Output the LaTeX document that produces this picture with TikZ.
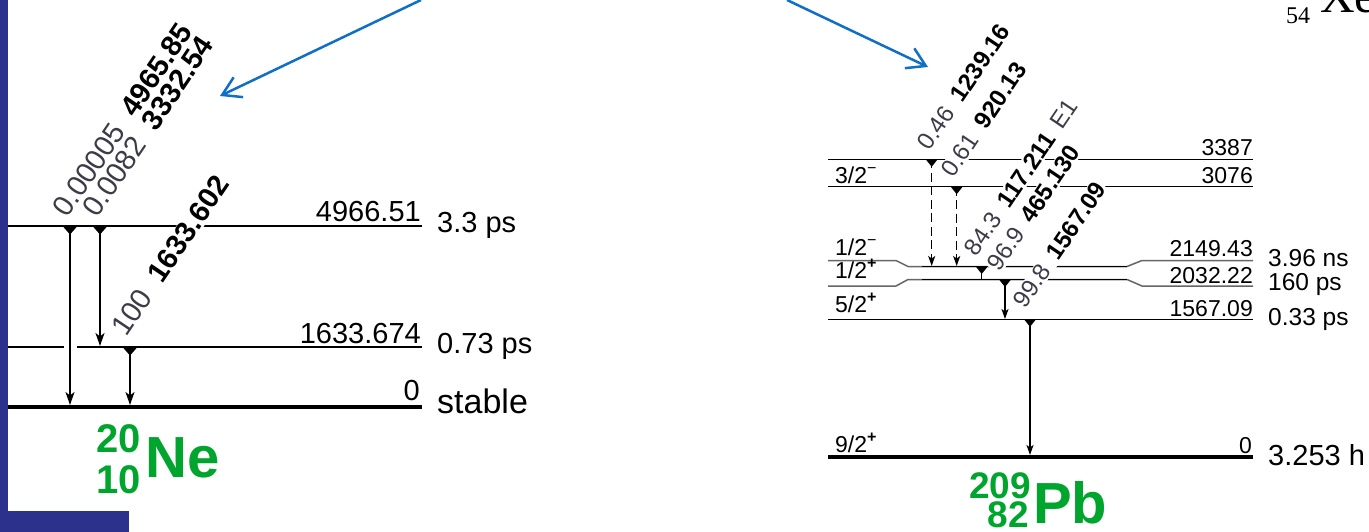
\documentclass[tikz,border=0pt]{standalone}
\usepackage{fontspec}
\setmainfont{Liberation Sans}
\newfontfamily\serifxe{Liberation Serif}
\usetikzlibrary{arrows.meta}
\definecolor{navy}{RGB}{44,50,140}
\definecolor{arrblue}{RGB}{15,111,198}
\definecolor{nucgreen}{RGB}{0,165,45}
\definecolor{intgray}{RGB}{60,60,72}
\newcommand\fsz[1]{\fontsize{#1}{#1}\selectfont}
\newcommand\inty[1]{\textcolor{intgray}{#1}}
\begin{document}
\begin{tikzpicture}[x=1pt,y=-1pt,
  lev/.style={line width=1.7pt},
  levb/.style={line width=1.5pt},
  gnd/.style={line width=4.5pt},
  nelab/.style={font=\fsz{29}, inner sep=0pt},
  pblab/.style={font=\fsz{23}, inner sep=0pt},
  pbtime/.style={font=\fsz{24.5}, inner sep=0pt, anchor=base west},
  gam/.style={rotate=56, anchor=base west, inner sep=1.2pt, fill=white},
  negam/.style={gam, font=\fsz{29}},
  pbgam/.style={gam, font=\fsz{24}},
  netr/.style={line width=1.8pt, -{Stealth[length=13pt,width=9pt,inset=3.5pt]}},
  pbtr/.style={line width=1.5pt, -{Stealth[length=10pt,width=7pt,inset=2.5pt]}},
  pbdash/.style={pbtr, dash pattern=on 9pt off 4.5pt},
  bluarr/.style={draw=arrblue, line width=2.5pt, -{Straight Barb[length=18pt,width=22pt]}},
  nuc/.style={text=nucgreen, inner sep=0pt, font=\bfseries\fsz{40}},
  dropne/.pic={\fill[rounded corners=1pt] (-7.5,0) -- (7.5,0) -- (0,8.5) -- cycle;},
  droppb/.pic={\fill[rounded corners=0.8pt] (-6,0) -- (6,0) -- (0,7.5) -- cycle;}
]
\clip (0,0) rectangle (1369,532);
\fill[white] (0,0) rectangle (1369,532);

% ---------------- Ne-20 ----------------
\draw[lev] (7,226) -- (422,226);
\draw[lev] (7,347) -- (64,347);
\draw[lev] (77,347) -- (422,347);
\draw[gnd] (7,407) -- (422,407);

\node[nelab, anchor=base east] (nl1) at (421,222) {4966.51};
\node[nelab, anchor=base west] (nt1) at (437,233) {3.3 ps};
\node[nelab, anchor=base east] (nl2) at (421,343) {1633.674};
\node[nelab, anchor=base west] (nt2) at (437,353) {0.73 ps};
\node[nelab, anchor=base east] (nl0) at (420,400) {0};
\node[nelab, anchor=base west, font=\fsz{34}] (nt0) at (437,413) {stable};

\node[negam] (g1) at (67,220) {\inty{0.00005}\hspace{0.55em}\textbf{4965.85}};
\node[negam] (g2) at (97,220) {\inty{0.0082}\hspace{0.55em}\textbf{3332.54}};
\node[negam] (g3) at (126,339) {\inty{100}\hspace{0.55em}\textbf{1633.602}};

\coordinate (na1) at (70,226);  \coordinate (na0) at (70,405);
\coordinate (nb1) at (100,226); \coordinate (nb2) at (100,346);
\coordinate (nc2) at (130,347); \coordinate (nc0) at (130,405);
\draw[netr] (na1) -- (na0);
\draw[netr] (nb1) -- (nb2);
\draw[netr] (nc2) -- (nc0);
\pic at (na1) {dropne};
\pic at (nb1) {dropne};
\pic at (nc2) {dropne};

\node[nuc, anchor=base east] (nem) at (141,452) {20};
\node[nuc, anchor=base east] (nez) at (141,493) {10};
\node[nuc, anchor=base west, font=\bfseries\fsz{58}] (nes) at (145,477) {Ne};

% ---------------- Pb-209 ----------------
\draw[levb] (828,159.3) -- (1253,159.3);
\draw[levb] (828,186.7) -- (1253,186.7);
\draw[levb, black!60] (828,260.5) -- (896,260.5) -- (908,266.5) -- (1127,266.5) -- (1142,260.5) -- (1253,260.5);
\draw[levb] (922,266.5) -- (1127,266.5);
\draw[levb, black!60] (828,286) -- (896,286) -- (908,279.5) -- (1127,279.5) -- (1142,286) -- (1253,286);
\draw[levb] (922,279.5) -- (1127,279.5);
\draw[levb] (828,319.3) -- (1253,319.3);
\draw[gnd] (828,457) -- (1253,457);

\node[pblab, anchor=base east] (e1) at (1253,156) {3387};
\node[pblab, anchor=base east] (e2) at (1253,184) {3076};
\node[pblab, anchor=base east] (e3) at (1253,256) {2149.43};
\node[pblab, anchor=base east] (e4) at (1253,283) {2032.22};
\node[pblab, anchor=base east] (e5) at (1253,316) {1567.09};
\node[pblab, anchor=base east] (e0) at (1252,453) {0};

\node[pblab, anchor=base west] (s2) at (835,183) {3/2\textsuperscript{−}};
\node[pblab, anchor=base west] (s3) at (835,255) {1/2\textsuperscript{−}};
\node[pblab, anchor=base west] (s4) at (835,278) {1/2\textsuperscript{\textbf{+}}};
\node[pblab, anchor=base west] (s5) at (835,312) {5/2\textsuperscript{\textbf{+}}};
\node[pblab, anchor=base west] (s0) at (835,452) {9/2\textsuperscript{\textbf{+}}};

\node[pbtime] (t3) at (1268,266) {3.96 ns};
\node[pbtime] (t4) at (1268,290) {160 ps};
\node[pbtime] (t5) at (1268,325) {0.33 ps};
\node[pbtime, font=\fsz{29}] (t0) at (1268,465) {3.253 h};

\node[pbgam] (h1) at (929,153) {\inty{0.46}\hspace{0.5em}\textbf{1239.16}};
\node[pbgam] (h2) at (953,180) {\inty{0.61}\hspace{0.5em}\textbf{920.13}};
\node[pbgam] (h3) at (976,259) {\inty{84.3}\hspace{0.5em}\textbf{117.211}\hspace{0.45em}\inty{E1}};
\node[pbgam] (h4) at (999,274) {\inty{96.9}\hspace{0.5em}\textbf{465.130}};
\node[pbgam] (h5) at (1025,311) {\inty{99.8}\hspace{0.5em}\textbf{1567.09}};

\coordinate (p1a) at (931.7,159.3); \coordinate (p1b) at (931.7,266);
\coordinate (p2a) at (956.7,186.7); \coordinate (p2b) at (956.7,266);
\coordinate (p3a) at (981.7,266.5); \coordinate (p3b) at (981.7,279);
\coordinate (p4a) at (1005,279.5);  \coordinate (p4b) at (1005,319);
\coordinate (p5a) at (1030,319.3);  \coordinate (p5b) at (1030,455);
\draw[pbdash] (p1a) -- (p1b);
\draw[pbdash] (p2a) -- (p2b);
\draw[line width=1.5pt] (p3a) -- (p3b);
\draw[pbtr] (p4a) -- (p4b);
\draw[pbtr] (p5a) -- (p5b);
\pic at (p1a) {droppb};
\pic at (p2a) {droppb};
\pic at (p3a) {droppb};
\pic at (p4a) {droppb};
\pic at (p5a) {droppb};

\node[nuc, anchor=base east, font=\bfseries\fsz{37}] (pbm) at (1031,498) {209};
\node[nuc, anchor=base east, font=\bfseries\fsz{37}] (pbz) at (1029,527) {82};
\node[nuc, anchor=base west, font=\bfseries\fsz{58}] (pbs) at (1033,523) {Pb};

% ---------------- Xe fragment ----------------
\node[anchor=base west, inner sep=0pt, font=\serifxe\fsz{24}] (xez) at (1286,24) {54};
\node[anchor=base west, inner sep=0pt, font=\serifxe\fsz{48}] (xes) at (1320,13) {Xe};

% ---------------- blue pointers ----------------
\coordinate (bl0) at (421,0);  \coordinate (bl1) at (220,96);
\coordinate (br0) at (787,0);  \coordinate (br1) at (928,67);
\draw[bluarr] (bl0) -- (bl1);
\draw[bluarr] (br0) -- (br1);

% ---------------- frame bars ----------------
\fill[navy] (0,0) rectangle (7.5,532);
\fill[navy] (0,511) rectangle (128.5,532);
\end{tikzpicture}
\end{document}
